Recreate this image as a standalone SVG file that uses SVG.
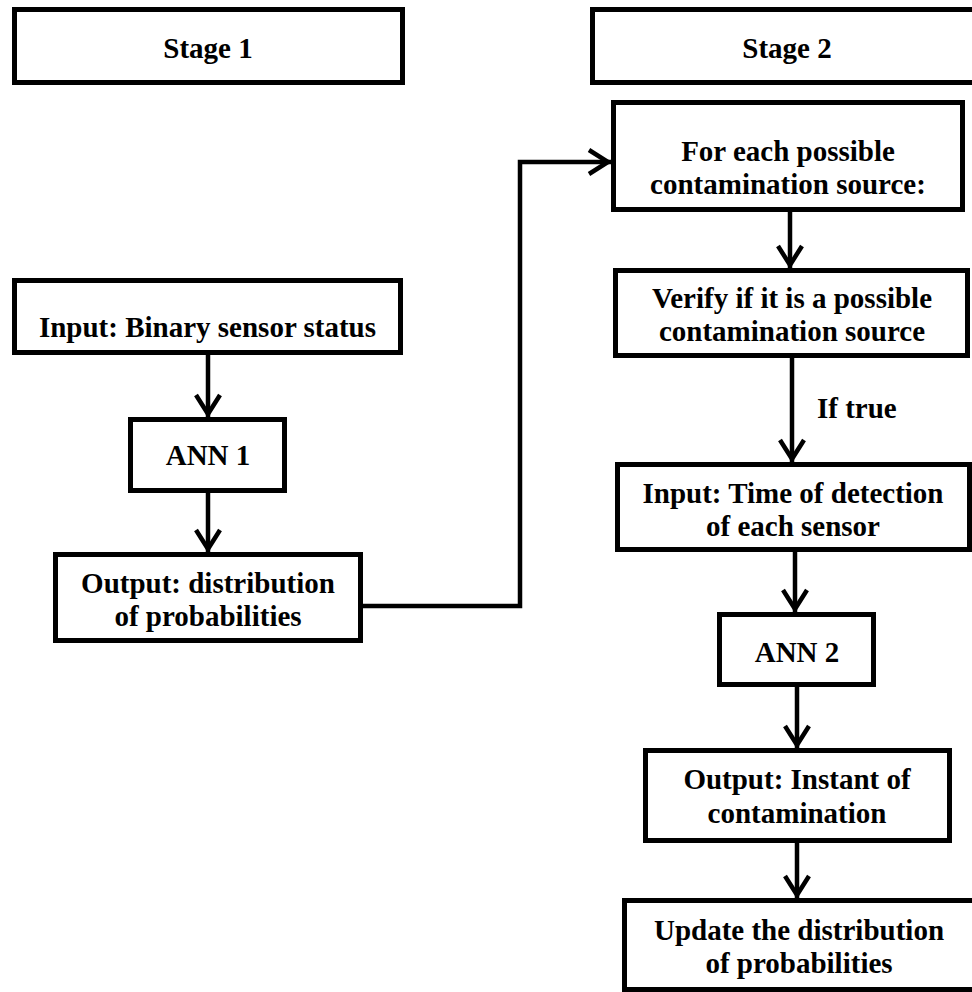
<svg xmlns="http://www.w3.org/2000/svg" width="972" height="992" viewBox="0 0 972 992">
  <style>
    .box { fill: #ffffff; stroke: #000000; stroke-width: 5; }
    .lbl { font-family: "Liberation Serif", "Times New Roman", serif; font-weight: bold; font-size: 29px; fill: #000000; text-anchor: middle; }
    .edge { fill: none; stroke: #000000; stroke-width: 4.5; marker-end: url(#chev); }
    .note { font-family: "Liberation Serif", "Times New Roman", serif; font-weight: bold; font-size: 29px; fill: #000000; }
  </style>
  <defs>
    <!-- open chevron arrowhead -->
    <marker id="chev" markerUnits="userSpaceOnUse" markerWidth="40" markerHeight="40" refX="0" refY="0" orient="auto" overflow="visible">
      <path d="M -22 -12 L -3 0 L -22 12" fill="none" stroke="#000000" stroke-width="4.5" stroke-linejoin="miter"/>
    </marker>
  </defs>
  <rect width="972" height="992" fill="#ffffff"/>

  <!-- connectors -->
  <g id="connectors">
    <path class="edge" d="M 208 355 V 417"/>
    <path class="edge" d="M 208 493 V 552"/>
    <path class="edge" d="M 363 606 H 520 V 162 H 611"/>
    <path class="edge" d="M 790 212 V 268"/>
    <path class="edge" d="M 792 358 V 462"/>
    <text class="note" x="817" y="418">If true</text>
    <path class="edge" d="M 795 552 V 612"/>
    <path class="edge" d="M 797 687 V 748"/>
    <path class="edge" d="M 797 843 V 898"/>
  </g>

  <!-- stage headers -->
  <g id="stage1">
    <rect class="box" x="14.5" y="9.5" width="388" height="73"/>
    <text class="lbl" x="208" y="58">Stage 1</text>
  </g>
  <g id="stage2">
    <rect class="box" x="592.5" y="9.5" width="390" height="73"/>
    <text class="lbl" x="787" y="58">Stage 2</text>
  </g>

  <!-- stage 1 flow -->
  <g id="input-binary">
    <rect class="box" x="14.5" y="280.5" width="386" height="72"/>
    <text class="lbl" x="207.5" y="337">Input: Binary sensor status</text>
  </g>
  <g id="ann1">
    <rect class="box" x="130.5" y="419.5" width="154" height="71"/>
    <text class="lbl" x="208" y="465">ANN 1</text>
  </g>
  <g id="output-distribution">
    <rect class="box" x="55.5" y="554.5" width="305" height="86"/>
    <text class="lbl" x="208" y="593">Output: distribution</text>
    <text class="lbl" x="208" y="626">of probabilities</text>
  </g>

  <!-- stage 2 flow -->
  <g id="for-each-source">
    <rect class="box" x="613.5" y="102.5" width="349" height="107"/>
    <text class="lbl" x="788" y="161">For each possible</text>
    <text class="lbl" x="788" y="194">contamination source:</text>
  </g>
  <g id="verify-source">
    <rect class="box" x="615.5" y="270.5" width="352" height="85"/>
    <text class="lbl" x="792" y="308">Verify if it is a possible</text>
    <text class="lbl" x="792" y="341">contamination source</text>
  </g>
  <g id="input-time">
    <rect class="box" x="617.5" y="464.5" width="352" height="85"/>
    <text class="lbl" x="793" y="503">Input: Time of detection</text>
    <text class="lbl" x="793" y="536">of each sensor</text>
  </g>
  <g id="ann2">
    <rect class="box" x="719.5" y="614.5" width="154" height="70"/>
    <text class="lbl" x="797" y="662">ANN 2</text>
  </g>
  <g id="output-instant">
    <rect class="box" x="645.5" y="750.5" width="304" height="90"/>
    <text class="lbl" x="797" y="789">Output: Instant of</text>
    <text class="lbl" x="797" y="823">contamination</text>
  </g>
  <g id="update-distribution">
    <rect class="box" x="624.5" y="900.5" width="352" height="89"/>
    <text class="lbl" x="799" y="940">Update the distribution</text>
    <text class="lbl" x="799" y="973">of probabilities</text>
  </g>
</svg>
